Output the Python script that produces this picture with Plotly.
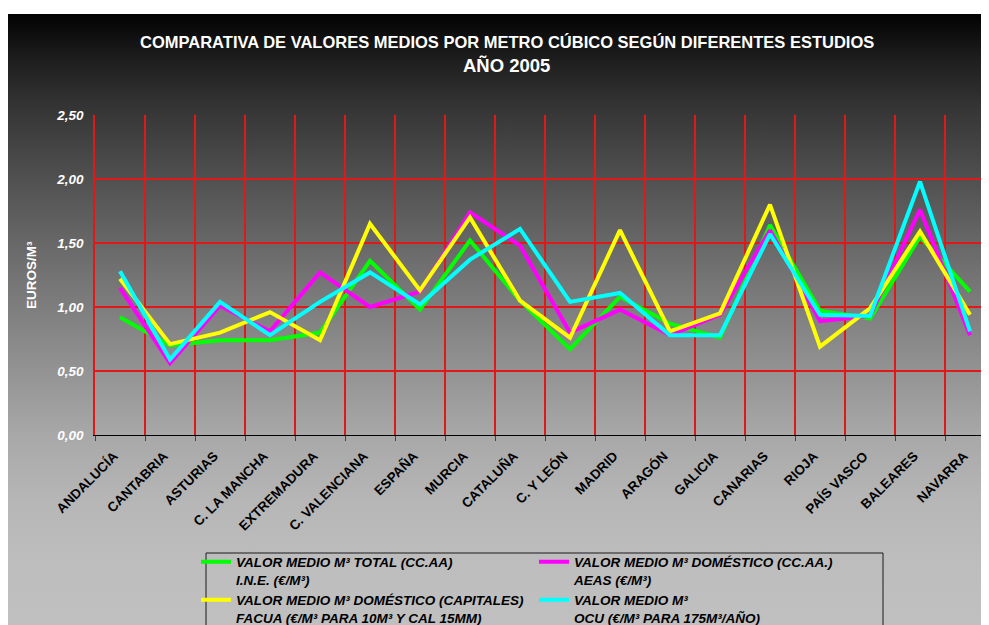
import base64
import plotly.graph_objects as go

regions = ["ANDALUCÍA", "CANTABRIA", "ASTURIAS", "C. LA MANCHA", "EXTREMADURA",
           "C. VALENCIANA", "ESPAÑA", "MURCIA", "CATALUÑA", "C. Y LEÓN", "MADRID",
           "ARAGÓN", "GALICIA", "CANARIAS", "RIOJA", "PAÍS VASCO", "BALEARES", "NAVARRA"]
ine_total = [0.92, 0.70, 0.74, 0.74, 0.80, 1.36, 0.98, 1.52, 1.05, 0.67, 1.08, 0.87,
             0.76, 1.64, 0.97, 0.91, 1.55, 1.12]
aeas_domestico = [1.15, 0.56, 1.01, 0.81, 1.27, 1.00, 1.12, 1.74, 1.48, 0.80, 0.98, 0.78,
                  0.94, 1.60, 0.89, 0.93, 1.76, 0.78]
facua_capitales = [1.22, 0.71, 0.80, 0.96, 0.74, 1.65, 1.13, 1.70, 1.05, 0.76, 1.60, 0.81,
                   0.95, 1.80, 0.69, 0.99, 1.59, 0.94]
ocu = [1.28, 0.59, 1.04, 0.78, 1.04, 1.27, 1.02, 1.37, 1.61, 1.04, 1.11, 0.78,
       0.78, 1.57, 0.94, 0.93, 1.98, 0.81]

series_names = [
    "VALOR MEDIO M³ TOTAL (CC.AA)<br>I.N.E. (€/M³)",
    "VALOR MEDIO M³ DOMÉSTICO (CC.AA.)<br>AEAS (€/M³)",
    "VALOR MEDIO M³ DOMÉSTICO (CAPITALES)<br>FACUA (€/M³ PARA 10M³ Y CAL 15MM)",
    "VALOR MEDIO M³<br>OCU (€/M³ PARA 175M³/AÑO)",
]
series_values = [ine_total, aeas_domestico, facua_capitales, ocu]
series_colors = ["#00ff00", "#ff00ff", "#ffff00", "#00ffff"]
series_legend = ["legend", "legend", "legend2", "legend2"]
y_ticks = [0, 0.5, 1.0, 1.5, 2.0, 2.5]

# page body has an 8px margin; figure sized to fill the visible window
OFF = 8
W, H = 989 - OFF, 625 - OFF
L, R, T, B = 87, 0, 107, 190
PW, PH = W - L - R, H - T - B
FONT = "Liberation Sans, Arial, sans-serif"
GRID = "#e01818"


def px_x(sx):
    return (sx - OFF - L) / PW


def px_y(sy):
    return (H - B - (sy - OFF)) / PH


# background gradient as an SVG image (screen y -> gray level)
stop_y = [14, 60, 115, 200, 275, 350, 435, 500, 560, 625]
stop_g = [2, 30, 56, 88, 115, 140, 168, 182, 189, 192]
y_top, y_bot = 14, 625
stops = "".join(
    f'<stop offset="{(yy - y_top) / (y_bot - y_top):.4f}" stop-color="rgb({g},{g},{g})"/>'
    for yy, g in zip(stop_y, stop_g))
svg = ('<svg xmlns="http://www.w3.org/2000/svg" width="100" height="100" '
       'viewBox="0 0 100 100" preserveAspectRatio="none">'
       '<defs><linearGradient id="g" x1="0" y1="0" x2="0" y2="1">' + stops +
       '</linearGradient></defs><rect x="0" y="0" width="100" height="100" fill="url(#g)"/></svg>')
bg_src = "data:image/svg+xml;base64," + base64.b64encode(svg.encode()).decode()

fig = go.Figure()
for name, vals, col, lg in zip(series_names, series_values, series_colors, series_legend):
    fig.add_trace(go.Scatter(x=regions, y=vals, mode="lines", name=name, legend=lg,
                             line=dict(color=col, width=4)))

leg_font = dict(family=FONT, size=13.5, color="black", weight="bold", style="italic")
leg_common = dict(orientation="h", xanchor="left", yanchor="top",
                  entrywidth=293, entrywidthmode="pixels",
                  bgcolor="rgba(0,0,0,0)", borderwidth=0,
                  font=leg_font, valign="top", itemwidth=30)

fig.update_layout(
    width=W, height=H,
    margin=dict(l=L, r=R, t=T, b=B, autoexpand=False),
    paper_bgcolor="white",
    plot_bgcolor="rgba(0,0,0,0)",
    separators=",.",
    images=[dict(source=bg_src, xref="paper", yref="paper",
                 x=px_x(8), y=px_y(y_top), sizex=px_x(989) - px_x(8),
                 sizey=px_y(y_top) - px_y(y_bot), xanchor="left", yanchor="top",
                 sizing="stretch", layer="below")],
    shapes=[dict(type="rect", xref="paper", yref="paper",
                 x0=px_x(206), x1=px_x(883), y0=px_y(640), y1=px_y(553),
                 line=dict(color="#1a1a1a", width=1), fillcolor="rgba(0,0,0,0)",
                 layer="below")],
    showlegend=True,
    legend=dict(x=px_x(196), y=px_y(546.5), **leg_common),
    legend2=dict(x=px_x(196), y=px_y(584.5), **leg_common),
    annotations=[
        dict(text="COMPARATIVA DE VALORES MEDIOS POR METRO CÚBICO SEGÚN DIFERENTES ESTUDIOS",
             xref="paper", yref="paper", x=px_x(507), y=px_y(42), showarrow=False,
             xanchor="center", yanchor="middle",
             font=dict(family=FONT, size=16.5, color="white", weight="bold")),
        dict(text="AÑO 2005",
             xref="paper", yref="paper", x=px_x(506), y=px_y(65), showarrow=False,
             xanchor="center", yanchor="middle",
             font=dict(family=FONT, size=18.5, color="white", weight="bold")),
        dict(text="EUROS/M³", textangle=-90,
             xref="paper", yref="paper", x=px_x(31), y=0.5, showarrow=False,
             xanchor="center", yanchor="middle",
             font=dict(family=FONT, size=13.5, color="white", weight="bold")),
    ],
)

fig.update_xaxes(
    type="category", range=[-0.5, -0.5 + PW / 50], tickson="boundaries",
    showgrid=True, gridcolor=GRID, gridwidth=1.5,
    showline=True, linecolor="black", linewidth=1,
    ticks="outside", ticklen=5, tickcolor="#444444", tickwidth=1,
    tickangle=-45, ticklabelstandoff=7, ticklabelshift=-6,
    tickfont=dict(family=FONT, size=13.5, color="black", weight="bold"),
    automargin=False, fixedrange=True,
)
fig.update_yaxes(
    range=[0, 2.5], tickvals=y_ticks, tickformat=".2f",
    showgrid=True, gridcolor=GRID, gridwidth=2, zeroline=False,
    showline=True, linecolor=GRID, linewidth=1.5,
    ticks="", ticklabelstandoff=7,
    tickfont=dict(family=FONT, size=13.5, color="white", weight="bold", style="italic"),
    automargin=False, fixedrange=True,
)

fig.write_html("out.html")
